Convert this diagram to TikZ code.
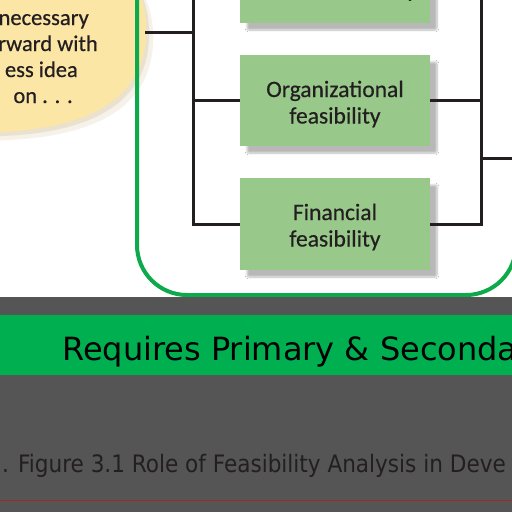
\documentclass[tikz,border=0pt]{standalone}
\usepackage{fontspec}
\setmainfont[FakeBold=0.5]{Carlito}
\newfontfamily\tahomalike{DejaVu Sans}
\usetikzlibrary{shadows.blur}
\definecolor{ellfill}{HTML}{FBE6A6}
\definecolor{ellshade}{HTML}{B89A55}
\definecolor{boxfill}{HTML}{98C98B}
\definecolor{framegreen}{HTML}{0DAA4B}
\definecolor{bandgreen}{HTML}{00B050}
\definecolor{darkband}{HTML}{555555}
\definecolor{ink}{HTML}{231F20}
\definecolor{redline}{HTML}{9E2A2A}
\def\ideapath{(120,-40) .. controls (144,-10) and (147,15) .. (146,35) .. controls (144,95) and (95,128) .. (0,132) .. controls (-30,134) .. (-60,130) -- (-60,-40) -- cycle}
\begin{document}
\begin{tikzpicture}[x=1pt,y=-1pt,
  feas/.style={fill=boxfill, minimum width=190pt, inner sep=0pt,
    blur shadow={shadow xshift=7pt, shadow yshift=-7pt, shadow blur steps=8, shadow blur extra rounding=2pt, shadow opacity=28}},
  feastext/.style={anchor=base, align=center, inner sep=0pt, text=ink, font=\fontsize{23.5}{26.5}\selectfont},
  conn/.style={draw=ink, line width=3pt},
  ideatext/.style={anchor=base east, font=\fontsize{22.5}{26}\selectfont, text=ink, inner sep=0pt},
]
\useasboundingbox (0,0) rectangle (512,512);
\clip (0,0) rectangle (512,512);
\fill[white] (0,0) rectangle (512,512);

% idea ellipse with soft shadow
\fill[ellshade, opacity=0.12] [shift={(7,8)}] \ideapath;
\fill[ellshade, opacity=0.18] [shift={(3,4)}] \ideapath;
\fill[ellfill] \ideapath;
\node[ideatext] (l1) at (89,25) {necessary};
\node[ideatext] (l2) at (98,51) {rward with};
\node[ideatext] (l3) at (78,77) {ess idea};
\node[ideatext] (l4) at (73,103) {on . . .};

% green frame
\draw[framegreen, line width=4pt, rounded corners=50pt] (137,-100) rectangle (516,295);

% boxes
\node[feas, minimum height=92pt] (ind) at (335,-23) {};
\node[feastext] (indtxt) at (335,-3) {Industry/target\\market feasibility};
\node[feas, minimum height=91pt] (org) at (335,100.5) {};
\node[feastext] (orgtxt) at (335,123.5) {Organizational\\feasibility};
\node[feas, minimum height=92pt] (fin) at (335,224) {};
\node[feastext] (fintxt) at (335,246.5) {Financial\\feasibility};

% connectors
\coordinate (ideaR) at (145,32);
\coordinate (lbus) at (193,-80);
\coordinate (rbus) at (481,-80);
\coordinate (out) at (520,158);
\draw[conn] (ideaR) -- (ideaR -| lbus);
\draw[conn] (lbus) -- (lbus |- fin.west) -- (fin.west);
\draw[conn] (ind.west) -- (ind.west -| lbus);
\draw[conn] (org.west) -- (org.west -| lbus);
\draw[conn] (rbus) -- (rbus |- fin.east) -- (fin.east);
\draw[conn] (ind.east) -- (ind.east -| rbus);
\draw[conn] (org.east) -- (org.east -| rbus);
\draw[conn] (out -| rbus) -- (out);

% lower bands
\fill[darkband] (0,297) rectangle (512,512);
\fill[bandgreen] (0,315) rectangle (512,375);
\node[anchor=base west, inner sep=0pt, text=black, font=\tahomalike\fontsize{32}{33}\selectfont] (req) at (62,360) {Requires Primary \& Seconda};
\node[anchor=base west, inner sep=0pt, text=ink, font=\fontspec{DejaVu Sans Condensed}\fontsize{24}{24}\selectfont] (cap) at (2,472) {. Figure 3.1 Role of Feasibility Analysis in Deve};
\draw[redline, line width=1pt] (0,500.5) -- (512,500.5);
\end{tikzpicture}
\end{document}
